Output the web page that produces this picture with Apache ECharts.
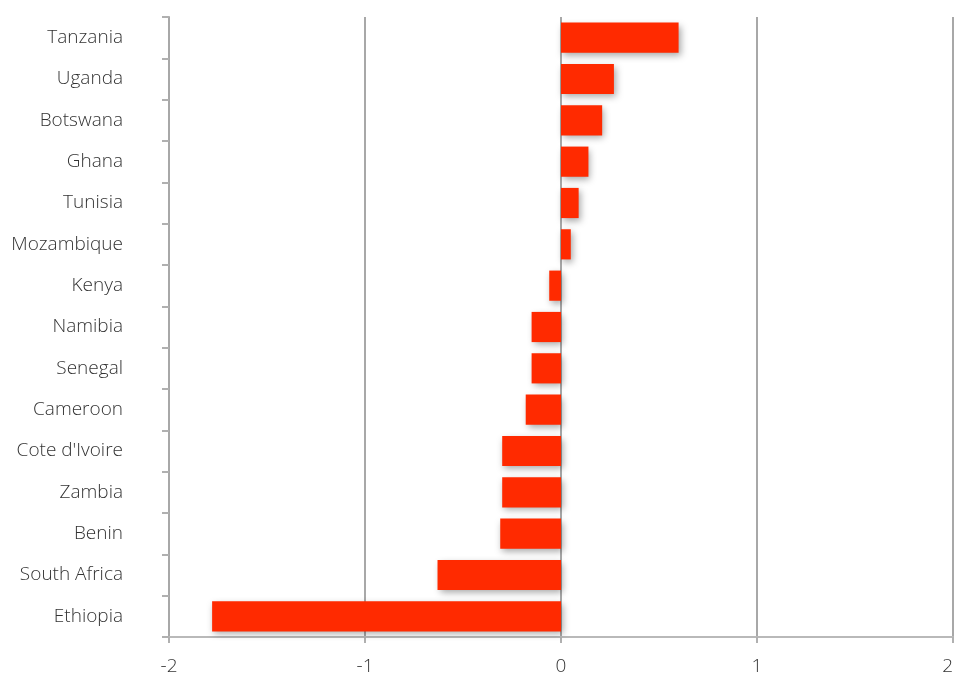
<!DOCTYPE html>
<html>
<head>
<meta charset="utf-8">
<script src="https://cdn.jsdelivr.net/npm/echarts@6/dist/echarts.min.js"></script>
<style>
  html, body { margin: 0; padding: 0; background: #fff; }
  #chart { width: 955px; height: 675px; }
</style>
</head>
<body>
<div id="chart"></div>
<script>
// Countries, top to bottom
const countries = [
  'Tanzania', 'Uganda', 'Botswana', 'Ghana', 'Tunisia', 'Mozambique', 'Kenya',
  'Namibia', 'Senegal', 'Cameroon', "Cote d'Ivoire", 'Zambia', 'Benin',
  'South Africa', 'Ethiopia'
];
// Value per country
const values = [
  0.60, 0.27, 0.21, 0.14, 0.09, 0.05, -0.06,
  -0.15, -0.15, -0.18, -0.30, -0.30, -0.31,
  -0.63, -1.78
];
// Value axis range and step
const xMin = -2;
const xMax = 2;
const xStep = 1;

const font = '"Open Sans", "Noto Sans", sans-serif';
const chart = echarts.init(document.getElementById('chart'), null, { renderer: 'canvas' });

chart.setOption({
  animation: false,
  backgroundColor: '#ffffff',
  grid: { left: 169, right: 2, top: 17, bottom: 38, containLabel: false, outerBoundsMode: 'none' },
  xAxis: {
    type: 'value',
    min: xMin,
    max: xMax,
    interval: xStep,
    axisLine: { show: true, onZero: false, lineStyle: { color: '#b9b9b9', width: 2 } },
    axisTick: { show: true, length: 6, lineStyle: { color: '#b0b0b0', width: 2 } },
    axisLabel: {
      color: '#333', fontFamily: font, fontSize: 19, fontWeight: 300, margin: 20,
      alignMaxLabel: 'right',
      formatter: v => String(v)
    },
    splitLine: { show: true, lineStyle: { color: '#a8a8a8', width: 2 } }
  },
  yAxis: {
    type: 'category',
    data: countries,
    inverse: true,
    boundaryGap: true,
    axisLine: { show: true, onZero: false, lineStyle: { color: '#a8a8a8', width: 2 } },
    axisTick: { show: true, length: 7, lineStyle: { color: '#b0b0b0', width: 2 } },
    axisLabel: {
      color: '#333', fontFamily: font, fontSize: 19, fontWeight: 300, margin: 46
    },
    splitLine: { show: false }
  },
  series: [{
    type: 'bar',
    data: values,
    barWidth: '73%',
    itemStyle: {
      color: '#ff2a00',
      shadowColor: 'rgba(0,0,0,0.35)',
      shadowBlur: 7,
      shadowOffsetX: 2,
      shadowOffsetY: 3
    }
  }]
});
</script>
</body>
</html>
